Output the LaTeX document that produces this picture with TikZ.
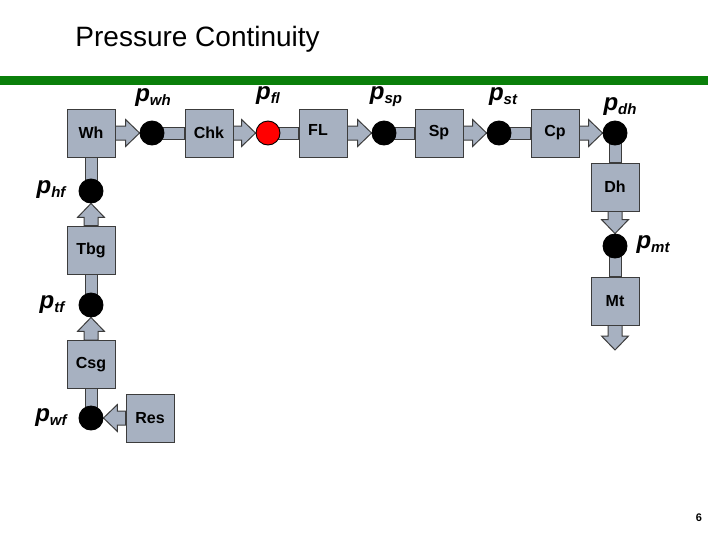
\documentclass[tikz,border=0pt]{standalone}
\usepackage{fontspec}
\setmainfont{Liberation Sans}
\usetikzlibrary{calc, backgrounds}
\definecolor{cbox}{HTML}{A7B1C1}
\definecolor{cline}{HTML}{3C3C3C}
\definecolor{cgreen}{HTML}{0A7F0A}
\definecolor{cred}{HTML}{FF0000}
\newcommand\pv[1]{{\fontsize{24}{24}\selectfont\bfseries\itshape p}\raisebox{-4pt}{\fontsize{15}{15}\selectfont\bfseries\itshape #1}}
\tikzset{
  every picture/.style={x=1pt, y=-1pt, line width=0.9pt},
  block/.style={draw=cline, fill=cbox, minimum width=48pt, minimum height=48pt, inner sep=0pt, font=\fontsize{16}{16}\selectfont\bfseries},
  junc/.style={circle, draw=black, fill=#1, minimum size=24pt, inner sep=0pt},
  junc/.default=black,
  plabel/.style={inner sep=0pt},
  flow/.style={draw=cline, fill=cbox, line width=1pt, to path={
    ($(\tikztostart)!7pt!90:(\tikztotarget)$) --
    ($(\tikztotarget)!15.65pt!-26.57:(\tikztostart)$) --
    ($(\tikztotarget)!19.45pt!-43.96:(\tikztostart)$) --
    (\tikztotarget) --
    ($(\tikztotarget)!19.45pt!43.96:(\tikztostart)$) --
    ($(\tikztotarget)!15.65pt!26.57:(\tikztostart)$) --
    ($(\tikztostart)!7pt!-90:(\tikztotarget)$) -- cycle}},
  stub/.style={draw=cline, fill=cbox, line width=1pt, to path={
    ($(\tikztostart)!6pt!90:(\tikztotarget)$) --
    ($(\tikztotarget)!6pt!-90:(\tikztostart)$) --
    ($(\tikztotarget)!6pt!90:(\tikztostart)$) --
    ($(\tikztostart)!6pt!-90:(\tikztotarget)$) -- cycle}},
}

\begin{document}
\begin{tikzpicture}
  \useasboundingbox (0,0) rectangle (708,533);
  \node[anchor=base west, inner sep=0pt, font=\fontsize{28}{28}\selectfont] (title) at (75,46.5) {Pressure Continuity};
  \fill[cgreen] (0,76) rectangle (708,85);

  % top row
  \node[block] (wh) at (91,133) {Wh};
  \node[junc] (pwh) at (152,133) {};
  \node[block] (chk) at (209,133) {Chk};
  \node[junc=cred] (pfl) at (268,133) {};
  \node[block] (fl) at (323,133) {};
  \node[font=\fontsize{16}{16}\selectfont\bfseries] (fltext) at (318,130) {FL};
  \node[junc] (psp) at (384,133) {};
  \node[block] (sp) at (439,133) {Sp};
  \node[junc] (pst) at (499,133) {};
  \node[block] (cp) at (555,133) {Cp};
  \node[junc] (pdh) at (615,133) {};

  % right column
  \node[block] (dh) at (615,187) {Dh};
  \node[junc] (pmt) at (615,246) {};
  \node[block] (mt) at (615,301) {Mt};
  \coordinate (out) at (615,350);

  % left column
  \node[junc] (phf) at (91,191) {};
  \node[block] (tbg) at (91,250) {Tbg};
  \node[junc] (ptf) at (91,305) {};
  \node[block] (csg) at (91,364.5) {Csg};
  \node[junc] (pwf) at (91,418) {};
  \node[block] (res) at (150,418) {Res};

  % pressure labels
  \node[plabel] (lwh) at (153,98) {\pv{wh}};
  \node[plabel] (lfl) at (268,96) {\pv{fl}};
  \node[plabel] (lsp) at (386,97) {\pv{sp}};
  \node[plabel] (lst) at (503,97) {\pv{st}};
  \node[plabel] (ldh) at (620,107) {\pv{dh}};
  \node[plabel] (lmt) at (653,245) {\pv{mt}};
  \node[plabel] (lhf) at (51,190) {\pv{hf}};
  \node[plabel] (ltf) at (52,305) {\pv{tf}};
  \node[plabel] (lwf) at (51,418) {\pv{wf}};

  \node[font=\fontsize{11}{11}\selectfont\bfseries] (pnum) at (699,518) {6};

  \begin{scope}[on background layer]
    \draw[flow] (wh.east) to (pwh.west);
    \draw[stub] (pwh.center) to (chk.west);
    \draw[flow] (chk.east) to (pfl.west);
    \draw[stub] (pfl.center) to (fl.west);
    \draw[flow] (fl.east) to (psp.west);
    \draw[stub] (psp.center) to (sp.west);
    \draw[flow] (sp.east) to (pst.west);
    \draw[stub] (pst.center) to (cp.west);
    \draw[flow] (cp.east) to (pdh.west);
    \draw[stub] (pdh.center) to (dh.north);
    \draw[flow] (dh.south) to (pmt.north);
    \draw[stub] (pmt.center) to (mt.north);
    \draw[flow] (mt.south) to (out);
    \draw[stub] (phf.center) to (wh.south);
    \draw[flow] (tbg.north) to (phf.south);
    \draw[stub] (ptf.center) to (tbg.south);
    \draw[flow] (csg.north) to (ptf.south);
    \draw[stub] (pwf.center) to (csg.south);
    \draw[flow] (res.west) to (pwf.east);
  \end{scope}
\end{tikzpicture}
\end{document}
